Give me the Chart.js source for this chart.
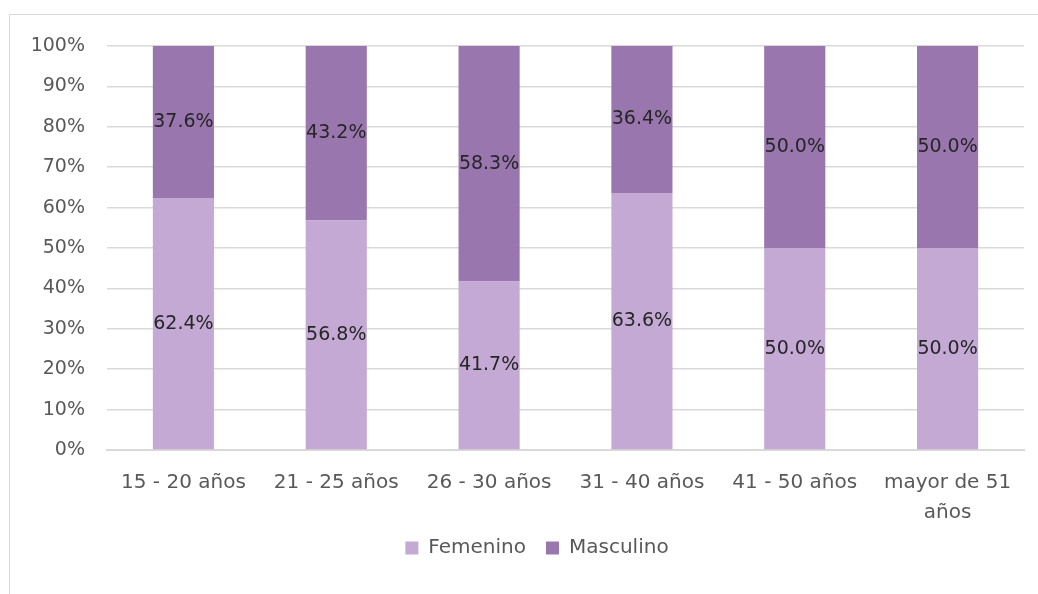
<!DOCTYPE html>
<html>
<head>
<meta charset="utf-8">
<script src="https://cdn.jsdelivr.net/npm/chart.js@4"></script>
<style>
  html, body { margin: 0; padding: 0; background: #fff; overflow: hidden; }
  #wrap { position: relative; width: 1038px; height: 594px; }
  #frame { position: absolute; left: 9px; top: 14px; width: 1100px; height: 700px; border: 1px solid #d9d9d9; }
  canvas { position: absolute; left: 0; top: 0; }
</style>
</head>
<body>
<div id="wrap">
  <div id="frame"></div>
  <canvas id="stack_chart" width="1038" height="594"></canvas>
</div>
<script>
// 年齢層
const categories = ['15 - 20 años', '21 - 25 años', '26 - 30 años', '31 - 40 años', '41 - 50 años', ['mayor de 51', 'años']]
// 割合 (%)
const femenino = [62.4, 56.8, 41.7, 63.6, 50.0, 50.0]
const masculino = [37.6, 43.2, 58.3, 36.4, 50.0, 50.0]
const series_names = ['Femenino', 'Masculino']

const FONT = '"DejaVu Sans", sans-serif'

// バーの中央に値を表示するプラグイン
const centerLabels = {
  id: 'centerLabels',
  afterDatasetsDraw(chart) {
    const ctx = chart.ctx
    ctx.save()
    ctx.font = '19px ' + FONT
    ctx.fillStyle = '#262626'
    ctx.textAlign = 'center'
    ctx.textBaseline = 'middle'
    chart.data.datasets.forEach((ds, i) => {
      chart.getDatasetMeta(i).data.forEach((bar, j) => {
        const mid = (bar.y + bar.base) / 2
        ctx.fillText(ds.data[j].toFixed(1) + '%', bar.x, mid)
      })
    })
    ctx.restore()
  },
}

// 凡例の位置を調整
const shiftLegend = {
  id: 'shiftLegend',
  afterLayout(chart) {
    const lg = chart.legend
    lg.left += 20
    lg.right += 20
    lg.top -= 17
    lg.bottom -= 17
  },
}

const ctx = document.getElementById('stack_chart').getContext('2d')
const stack_chart = new Chart(ctx, {
  type: 'bar',
  data: {
    labels: categories,
    datasets: [
      {
        label: series_names[0],
        data: femenino,
        backgroundColor: '#C3A9D4',
      },
      {
        label: series_names[1],
        data: masculino,
        backgroundColor: '#9A76AF',
      },
    ],
  },
  options: {
    responsive: false,
    animation: false,
    layout: { padding: { left: 10, right: 14, top: 46, bottom: 9 } },
    datasets: { bar: { categoryPercentage: 1, barPercentage: 0.4 } },
    scales: {
      x: {
        stacked: true,
        grid: { display: false },
        border: { color: '#d9d9d9', width: 2 },
        ticks: { color: '#595959', font: { family: FONT, size: 20, lineHeight: 1.5 }, padding: 10, maxRotation: 0 },
        afterFit: (scale) => { scale.height = 85 },
      },
      y: {
        stacked: true,
        min: 0,
        max: 100,
        grid: { color: '#d9d9d9', lineWidth: 1.5, drawTicks: false },
        border: { display: false },
        ticks: {
          stepSize: 10,
          color: '#595959',
          font: { family: FONT, size: 19 },
          padding: 22,
          callback: (v) => v + '%',
        },
        afterFit: (scale) => { scale.width = 97 },
      },
    },
    plugins: {
      legend: {
        position: 'bottom',
        labels: {
          boxWidth: 13,
          boxHeight: 13,
          padding: 20,
          color: '#595959',
          font: { family: FONT, size: 20 },
        },
      },
      tooltip: { enabled: false },
    },
  },
  plugins: [centerLabels, shiftLegend],
})
</script>
</body>
</html>
